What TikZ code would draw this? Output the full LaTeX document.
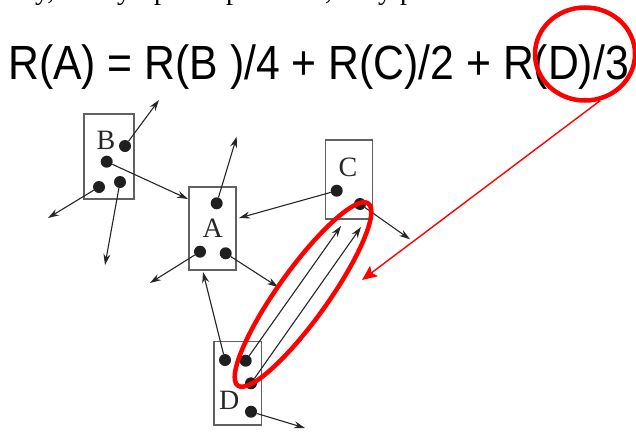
\documentclass[tikz,border=0pt]{standalone}
\usepackage{fontspec}
\setmainfont{Liberation Serif}
\newfontfamily\eqfont{Liberation Sans}
\usetikzlibrary{arrows.meta,shapes.geometric}
\begin{document}
\begin{tikzpicture}[x=1pt,y=-1pt,
  pagebox/.style={draw=black!62, line width=1.1pt, inner sep=0pt},
  dot/.style={circle, fill=black!88, minimum size=12pt, inner sep=0pt},
  link/.style={draw=black!85, line width=1.1pt, -{Stealth[length=11pt,width=7pt]}},
  lbl/.style={font=\fontsize{28}{28}\selectfont, text=black!85, inner sep=0pt},
  frag/.style={font=\fontsize{28}{28}\selectfont, inner sep=0pt, anchor=base west},
  redring/.style={ellipse, draw=red, line width=4.5pt, inner sep=0pt},
  redlink/.style={draw=red, line width=1.4pt, -{Stealth[length=15pt,width=13pt,inset=3pt]}}
]
\useasboundingbox (0,0) rectangle (636,431);
\clip (0,0) rectangle (636,431);

% cut-off line of text at the top (cut off in the reference too)
\node[frag] (f1) at (35,-1) {y,};
\node[frag] (f2) at (117,-1) {y};
\node[frag] (f3) at (154,-1) {p};
\node[frag] (f4) at (226,-1) {p};
\node[frag] (f5) at (325,-1) {,};
\node[frag] (f6) at (378,-1) {y};
\node[frag] (f7) at (400,-1) {p};

% equation
\node[inner sep=0pt, anchor=base west] (eq) at (8,79)
  {\scalebox{0.89}[1]{\eqfont\fontsize{48}{48}\selectfont R(A) = R(B )/4 + R(C)/2 + R(D)/3}};

% page boxes
\node[pagebox, minimum width=50pt, minimum height=85pt] (B) at (109,156.5) {};
\node[pagebox, minimum width=47pt, minimum height=83pt] (A) at (212.5,228.5) {};
\node[pagebox, minimum width=46.6pt, minimum height=79pt] (C) at (349,179.5) {};
\node[pagebox, minimum width=47.7pt, minimum height=83.3pt] (D) at (237.8,383.3) {};

\node[lbl] (lB) at (106,140) {B};
\node[lbl] (lA) at (212.7,228) {A};
\node[lbl] (lC) at (348,167) {C};
\node[lbl] (lD) at (229.3,400.7) {D};

% link dots
\node[dot] (b1) at (125,146) {};
\node[dot] (b2) at (106.7,161.7) {};
\node[dot] (b3) at (99,187) {};
\node[dot] (b4) at (120,182) {};
\node[dot] (a1) at (216.7,203.3) {};
\node[dot] (a2) at (200,251.7) {};
\node[dot] (a3) at (225.7,253.3) {};
\node[dot] (c1) at (336.7,190.7) {};
\node[dot] (c2) at (360,204) {};
\node[dot] (d1) at (225,360) {};
\node[dot] (d2) at (245.7,360.7) {};
\node[dot] (d3) at (251,383.3) {};
\node[dot] (d4) at (251,411.7) {};

% arrow end points
\coordinate (tb1) at (159,100);
\coordinate (tb3) at (48,218);
\coordinate (tb4) at (105,265);
\coordinate (aw) at (188,199);
\coordinate (ta1) at (236.7,136.7);
\coordinate (ta2) at (150,283);
\coordinate (ta3) at (278,287);
\coordinate (ae) at (239,218);
\coordinate (as) at (203,272);
\coordinate (tc2) at (410,239.3);
\coordinate (cs1) at (341,226);
\coordinate (cs2) at (361,227);
\coordinate (td4) at (305,428);

\draw[link] (b1) -- (tb1);
\draw[link] (b2) -- (aw);
\draw[link] (b3) -- (tb3);
\draw[link] (b4) -- (tb4);
\draw[link] (a1) -- (ta1);
\draw[link] (a2) -- (ta2);
\draw[link] (a3) -- (ta3);
\draw[link] (c1) -- (ae);
\draw[link] (c2) -- (tc2);
\draw[link] (d1) -- (as);
\draw[link] (d2) -- (cs1);
\draw[link] (d3) -- (cs2);
\draw[link] (d4) -- (td4);

% red highlights
\node[redring, minimum width=224pt, minimum height=50pt, rotate=54.4] (ring) at (303,294.5) {};
\node[redring, minimum width=100pt, minimum height=93pt] (eqring) at (585,54) {};
\coordinate (redtip) at (362,280);
\draw[redlink] (eqring.-72) -- (redtip);
\end{tikzpicture}
\end{document}
